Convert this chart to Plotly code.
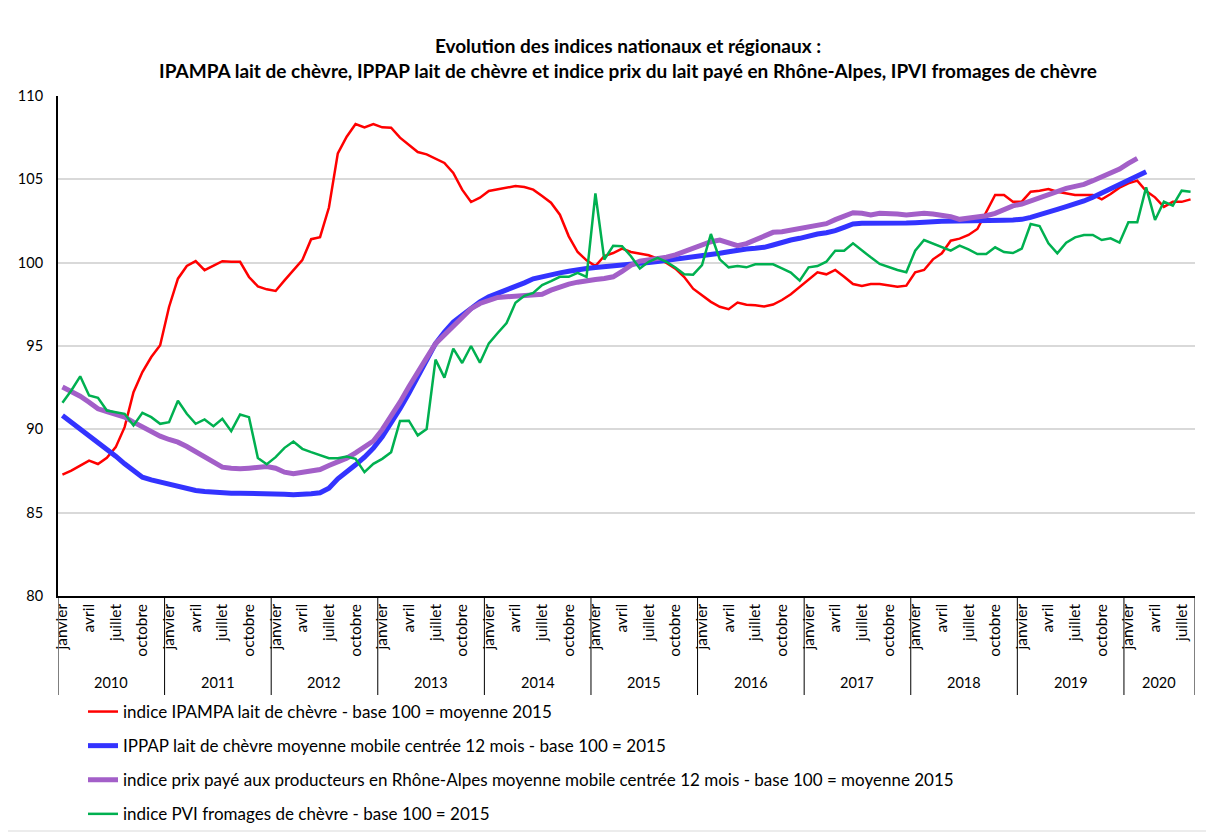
import plotly.graph_objects as go

years = [2010, 2011, 2012, 2013, 2014, 2015, 2016, 2017, 2018, 2019, 2020]
month_labels = ["janvier", "avril", "juillet", "octobre"]
n_months = 128  # janvier 2010 -> août 2020

ipampa = [
    87.28, 87.52, 87.82, 88.12, 87.92, 88.29, 88.93, 90.13, 92.23, 93.44, 94.34, 95.04,
    97.34, 99.04, 99.80, 100.09, 99.55, 99.80, 100.09, 100.05, 100.05, 99.14, 98.58, 98.40,
    98.30, 98.94, 99.55, 100.15, 101.41, 101.53, 103.31, 106.56, 107.56, 108.32, 108.12, 108.32,
    108.12, 108.10, 107.50, 107.08, 106.64, 106.50, 106.22, 105.98, 105.38, 104.38, 103.64, 103.90,
    104.30, 104.40, 104.50, 104.60, 104.54, 104.38, 104.00, 103.60, 102.88, 101.58, 100.64, 100.14,
    99.80, 100.40, 100.58, 100.84, 100.64, 100.54, 100.44, 100.24, 99.98, 99.64, 99.14, 98.44,
    98.05, 97.65, 97.35, 97.21, 97.61, 97.47, 97.45, 97.37, 97.49, 97.76, 98.10, 98.56,
    99.02, 99.42, 99.30, 99.56, 99.16, 98.72, 98.60, 98.72, 98.72, 98.62, 98.56, 98.62,
    99.42, 99.56, 100.20, 100.56, 101.32, 101.44, 101.66, 102.02, 103.06, 104.06, 104.06, 103.66,
    103.66, 104.26, 104.32, 104.42, 104.26, 104.16, 104.06, 104.06, 104.06, 103.80, 104.12, 104.50,
    104.76, 104.92, 104.30, 103.92, 103.35, 103.65, 103.65, 103.80,
]

ippap = [
    90.83, 90.43, 90.03, 89.59, 89.19, 88.83, 88.39, 87.93, 87.49, 87.13, 86.97, 86.83,
    86.69, 86.57, 86.43, 86.33, 86.27, 86.23, 86.17, 86.17, 86.17, 86.17, 86.17, 86.11,
    86.11, 86.11, 86.07, 86.07, 86.13, 86.19, 86.47, 87.03, 87.43, 87.87, 88.33, 88.87,
    89.55, 90.35, 91.24, 92.16, 93.16, 94.11, 95.14, 95.84, 96.44, 96.84, 97.24, 97.65,
    97.95, 98.15, 98.35, 98.59, 98.79, 99.03, 99.17, 99.29, 99.39, 99.49, 99.59, 99.65,
    99.71, 99.75, 99.81, 99.85, 99.91, 99.95, 100.01, 100.07, 100.13, 100.19, 100.27, 100.34,
    100.40, 100.48, 100.56, 100.66, 100.76, 100.82, 100.86, 100.92, 101.06, 101.24, 101.36, 101.46,
    101.60, 101.72, 101.80, 101.92, 102.12, 102.32, 102.36, 102.35, 102.35, 102.35, 102.34, 102.38,
    102.40, 102.40, 102.46, 102.48, 102.50, 102.52, 102.52, 102.52, 102.53, 102.54, 102.55, 102.56,
    102.60, 102.72, 102.86, 103.02, 103.20, 103.36, 103.52, 103.70, 103.92, 104.16, 104.44, 104.72,
    104.96, 105.20, 105.46, None, None, None, None, None,
]

rhone_alpes = [
    92.54, 92.28, 91.99, 91.63, 91.23, 91.07, 90.93, 90.73, 90.43, 90.13, 89.89, 89.59,
    89.39, 89.23, 88.97, 88.67, 88.37, 87.99, 87.73, 87.67, 87.63, 87.67, 87.73, 87.77,
    87.67, 87.43, 87.33, 87.43, 87.49, 87.59, 87.83, 88.03, 88.27, 88.59, 88.99, 89.30,
    89.98, 90.78, 91.63, 92.56, 93.48, 94.29, 95.14, 95.64, 96.20, 96.74, 97.24, 97.55,
    97.75, 97.91, 97.95, 97.99, 98.01, 98.01, 98.11, 98.35, 98.55, 98.71, 98.83, 98.93,
    98.99, 99.05, 99.15, 99.47, 99.85, 100.09, 100.15, 100.21, 100.33, 100.47, 100.65, 100.85,
    101.02, 101.26, 101.36, 101.20, 101.02, 101.14, 101.36, 101.64, 101.82, 101.86, 101.96, 102.06,
    102.16, 102.22, 102.34, 102.58, 102.76, 103.00, 102.96, 102.86, 102.96, 102.96, 102.92, 102.86,
    102.92, 102.96, 102.92, 102.86, 102.76, 102.60, 102.66, 102.78, 102.82, 102.96, 103.16, 103.41,
    103.52, 103.72, 103.92, 104.12, 104.32, 104.46, 104.58, 104.70, 104.92, 105.16, 105.42, 105.62,
    105.96, 106.26, None, None, None, None, None, None,
]

ipvi = [
    91.60, 92.33, 93.18, 92.03, 91.89, 91.13, 91.03, 90.93, 90.23, 90.99, 90.73, 90.33,
    90.43, 91.71, 90.93, 90.33, 90.59, 90.19, 90.63, 89.89, 90.89, 90.73, 88.28, 87.91,
    88.33, 88.89, 89.27, 88.83, 88.63, 88.43, 88.27, 88.27, 88.37, 88.23, 87.43, 87.93,
    88.23, 88.63, 90.50, 90.52, 89.64, 90.02, 94.18, 93.10, 94.84, 93.98, 95.00, 94.00,
    95.16, 95.78, 96.38, 97.59, 98.01, 98.19, 98.65, 98.89, 99.15, 99.15, 99.39, 99.15,
    104.15, 100.19, 101.01, 100.99, 100.39, 99.65, 100.05, 100.29, 100.05, 99.71, 99.31, 99.28,
    99.86, 101.72, 100.20, 99.72, 99.80, 99.72, 99.90, 99.90, 99.90, 99.66, 99.40, 98.92,
    99.72, 99.80, 100.06, 100.72, 100.72, 101.16, 100.72, 100.32, 99.92, 99.72, 99.56, 99.42,
    100.72, 101.36, 101.16, 100.96, 100.72, 101.02, 100.80, 100.52, 100.52, 100.92, 100.64, 100.58,
    100.84, 102.32, 102.20, 101.16, 100.56, 101.20, 101.52, 101.66, 101.66, 101.36, 101.46, 101.20,
    102.42, 102.42, 104.52, 102.56, 103.66, 103.42, 104.32, 104.26,
]

series_names = [
    "indice IPAMPA lait de chèvre - base 100 = moyenne 2015",
    "IPPAP lait de chèvre moyenne mobile centrée 12 mois - base 100 = 2015",
    "indice prix payé aux producteurs en Rhône-Alpes moyenne mobile centrée 12 mois - base 100 = moyenne 2015",
    "indice PVI fromages de chèvre - base 100 = 2015",
]
title_lines = [
    "Evolution des indices nationaux et régionaux :",
    "IPAMPA lait de chèvre, IPPAP lait de chèvre et indice prix du lait payé en Rhône-Alpes, IPVI fromages de chèvre",
]

FONT = "Lato, 'Open Sans', sans-serif"
FIG_W, FIG_H = 1214, 835
OFF = 8  # page body margin of the html page

x = list(range(n_months))

styles = [
    dict(color="#FF0000", width=2.5),
    dict(color="#3333FF", width=5),
    dict(color="#A35FC8", width=5),
    dict(color="#00B050", width=2.5),
]
data = [ipampa, ippap, rhone_alpes, ipvi]

fig = go.Figure()
for i, (name, vals, st) in enumerate(zip(series_names, data, styles)):
    fig.add_trace(go.Scatter(x=x, y=vals, mode="lines", name=name, line=st,
                             legendgroup=f"g{i}", connectgaps=False))

tickvals = list(range(0, n_months, 3))
ticktext = [month_labels[(v % 12) // 3] for v in tickvals]

# plot area in target (screenshot) pixels
L, R, T, B = 58, 1195, 96, 596
W, H = R - L, B - T


def px_x(p):
    return (p - L) / W


def px_y(p):
    return (B - p) / H


shapes = []
bounds = [-0.5 + 12 * k for k in range(len(years))] + [n_months - 0.5]
for b in bounds:
    shapes.append(dict(type="line", xref="x", yref="paper", x0=b, x1=b, y0=0, y1=px_y(695),
                       line=dict(color="black", width=1)))
shapes.append(dict(type="rect", xref="paper", yref="paper",
                   x0=px_x(7), x1=px_x(1207), y0=px_y(831), y1=px_y(2),
                   line=dict(color="#D9D9D9", width=1), fillcolor="rgba(0,0,0,0)", layer="below"))

annotations = []
for k, yr in enumerate(years):
    start = 12 * k
    end = min(start + 12, n_months)
    annotations.append(dict(x=(start + end - 1) / 2, y=px_y(682), xref="x", yref="paper",
                            text=str(yr), showarrow=False,
                            font=dict(size=14.5, color="black", family=FONT),
                            xanchor="center", yanchor="middle"))

fig.update_layout(
    width=FIG_W, height=FIG_H,
    margin=dict(l=L - OFF, r=FIG_W - (R - OFF), t=T - OFF, b=FIG_H - (B - OFF), autoexpand=False),
    paper_bgcolor="white", plot_bgcolor="white",
    font=dict(family=FONT, color="black"),
    title=dict(text="<b>" + title_lines[0] + "</b><br><b>" + title_lines[1] + "</b>",
               x=(628 - OFF) / FIG_W, xanchor="center", y=1 - (53 - OFF) / FIG_H, yanchor="top",
               font=dict(size=19, family=FONT, color="black")),
    xaxis=dict(range=[-0.5, n_months - 0.5], tickmode="array", tickvals=tickvals, ticktext=ticktext,
               tickangle=-90, tickfont=dict(size=15.5, family=FONT, color="black"),
               showgrid=False, zeroline=False, showline=True, linecolor="black", linewidth=1.5,
               ticks="", ticklen=0, ticklabelstandoff=0, automargin=False),
    yaxis=dict(range=[80, 110], dtick=5, tick0=80, showgrid=True, gridcolor="#D9D9D9", gridwidth=1.5,
               zeroline=False, showline=True, linecolor="black", linewidth=2,
               tickfont=dict(size=14.5, family=FONT, color="black"), ticks="", ticklen=0,
               ticklabelstandoff=10, automargin=False),
    showlegend=True,
    legend=dict(orientation="v", x=px_x(83), xanchor="left", y=px_y(694), yanchor="top",
                font=dict(size=17, family=FONT, color="black"), bgcolor="rgba(0,0,0,0)",
                tracegroupgap=9, traceorder="grouped"),
    shapes=shapes,
    annotations=annotations,
)

fig.write_html("out.html")
